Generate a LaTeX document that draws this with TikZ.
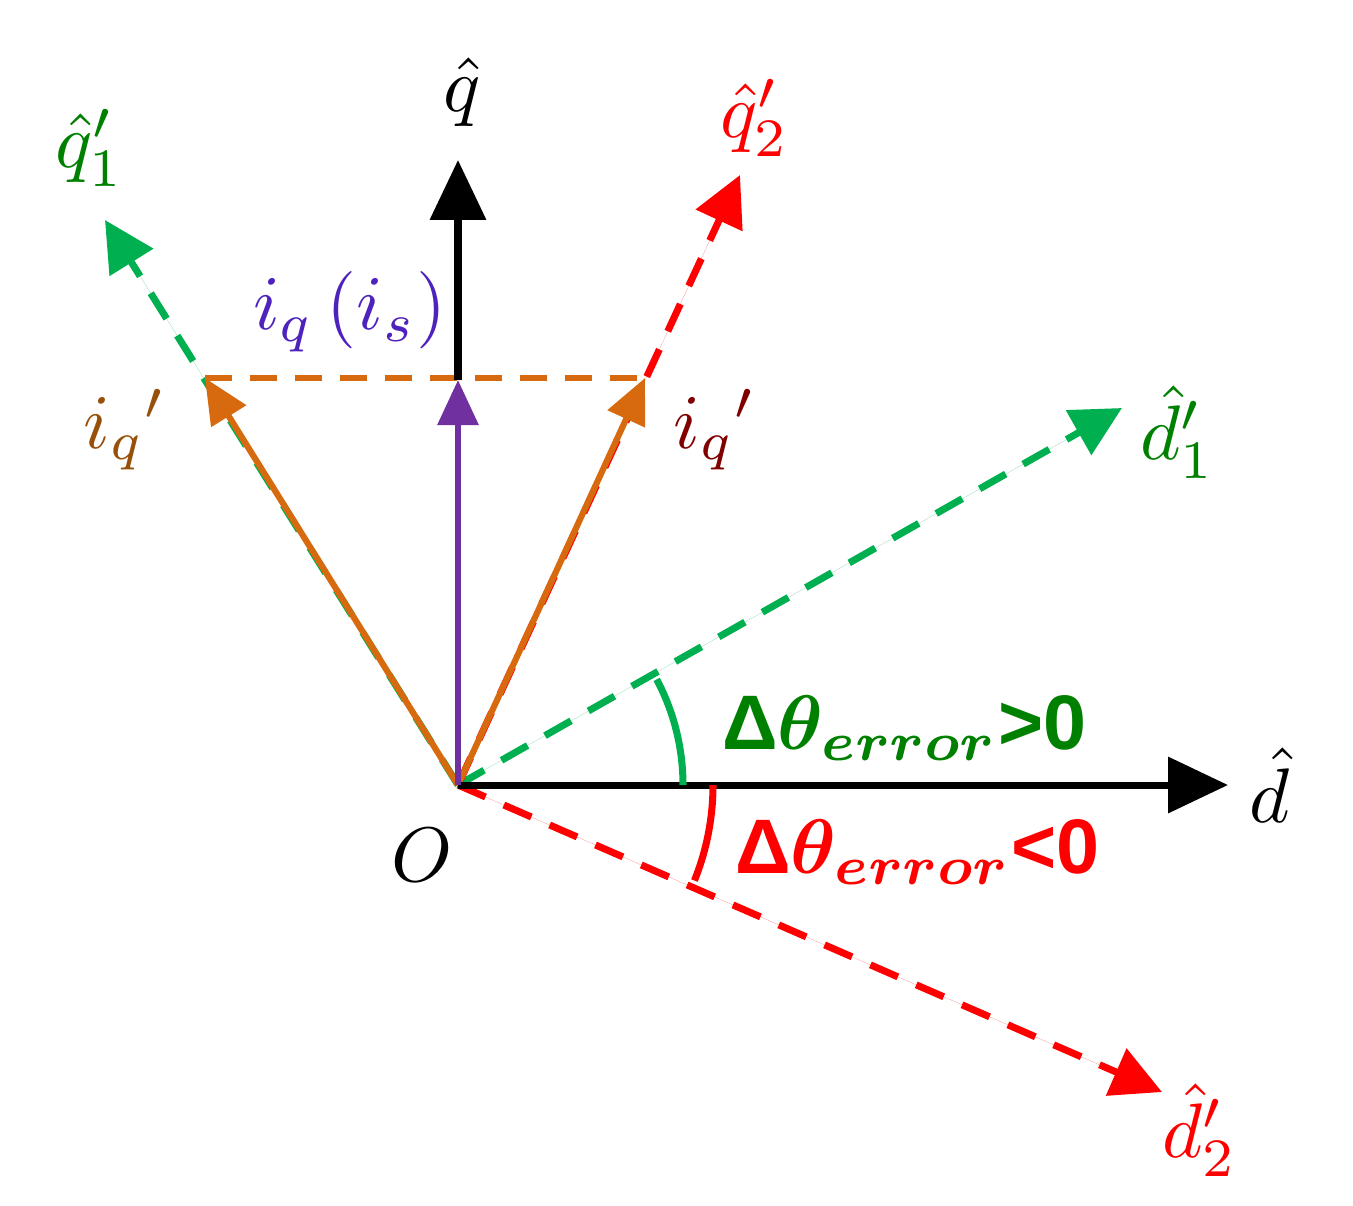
\documentclass[tikz,border=0pt]{standalone}
\usepackage{amsmath,bm}
\usepackage{fontspec}
\setsansfont{Liberation Sans}
\usetikzlibrary{arrows.meta}
\newcommand\Sz[1]{\scalebox{4.4}{#1}}
\definecolor{dg}{RGB}{0,176,80}
\definecolor{tg}{RGB}{0,128,0}
\definecolor{orn}{RGB}{215,105,15}
\definecolor{pur}{RGB}{112,48,160}
\definecolor{brn}{RGB}{150,80,10}
\definecolor{drd}{RGB}{128,0,0}
\tikzset{
 big/.style={inner sep=0pt},
 ax/.style={line width=4pt,-{Triangle[length=1.2cm,width=1.1cm]}},
 dax/.style={line width=4pt,dash pattern=on 0.6cm off 0.4cm,-{Triangle[length=1.0cm,width=1.0cm]}},
 vec/.style={line width=3.5pt,-{Triangle[length=0.9cm,width=0.8cm]}}
}
\begin{document}
\begin{tikzpicture}[x=0.02cm,y=-0.02cm]
\useasboundingbox (0,0) rectangle (1353,1205);
\coordinate (O) at (458,785);
\coordinate (D) at (1228,785);
\coordinate (Q) at (458,160);
\coordinate (Q1) at (105,220);
\coordinate (Q2) at (740,175);
\coordinate (D1) at (1122,408);
\coordinate (D2) at (1162,1092);
\coordinate (L) at (205,378);
\coordinate (R) at (645,378);
\coordinate (P) at (458,380);
\draw[dax,draw=dg,fill=dg] (O) -- (Q1);
\draw[dax,draw=dg,fill=dg] (O) -- (D1);
\draw[dax,draw=red,fill=red] (O) -- (Q2);
\draw[dax,draw=red,fill=red] (O) -- (D2);
\draw[orn,line width=3.5pt,dash pattern=on 0.55cm off 0.35cm] (L) -- (R);
\draw[vec,draw=orn,fill=orn] (O) -- (L);
\draw[vec,draw=orn,fill=orn] (O) -- (R);
\draw[ax] (O) -- (D);
\draw[ax] (P) -- (Q);
\draw[vec,draw=pur,fill=pur] (O) -- (P);
\draw[dg,line width=4pt] (O) ++(0:225) arc[start angle=0,end angle=-28,radius=225];
\draw[red,line width=4pt] (O) ++(0:255) arc[start angle=0,end angle=22,radius=255];
\node[big] (nq) at (462,92) {\Sz{$\hat{q}$}};
\node[big,tg] (nq1) at (90,148) {\Sz{$\hat{q}_1'$}};
\node[big,red] (nq2) at (755,118) {\Sz{$\hat{q}_2'$}};
\node[big,tg] (nd1) at (1178,432) {\Sz{$\hat{d}_1'$}};
\node[big] (nd) at (1270,785) {\Sz{$\hat{d}$}};
\node[big,red] (nd2) at (1200,1130) {\Sz{$\hat{d}_2'$}};
\node[big] (nO) at (422,855) {\Sz{$O$}};
\node[big,pur!70!blue] (niq) at (350,312) {\Sz{$i_q\left(i_s\right)$}};
\node[big,brn] (nl) at (125,430) {\Sz{$i_q{}'$}};
\node[big,drd] (nr) at (715,430) {\Sz{$i_q{}'$}};
\node[big,tg,anchor=west] (g) at (722,728) {\Sz{\sffamily\bfseries Δ$\bm{\theta}_{\bm{error}}$>0}};
\node[big,red,anchor=west] (r) at (735,852) {\Sz{\sffamily\bfseries Δ$\bm{\theta}_{\bm{error}}$<0}};
\end{tikzpicture}
\end{document}
